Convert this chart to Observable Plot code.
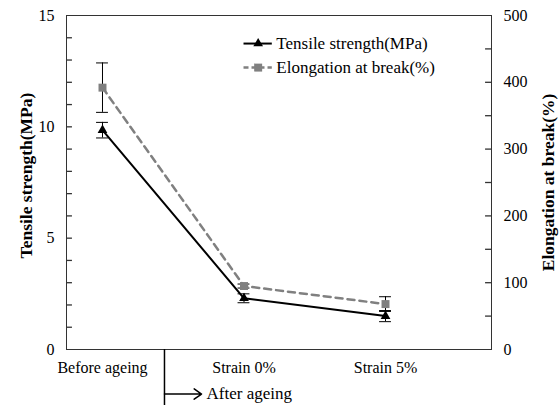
<!DOCTYPE html>
<html><head><meta charset="utf-8">
<script src="https://cdn.jsdelivr.net/npm/d3@7"></script>
<script src="https://cdn.jsdelivr.net/npm/@observablehq/plot@0.6"></script>
<style>
body{margin:0;background:#fff;}
</style></head><body><div id="chart"></div>
<script>
// ---- data ----
const categories = ["Before ageing", "Strain 0%", "Strain 5%"];
const tensile = [9.85, 2.3, 1.5];          // MPa (left axis)
const tensileErr = [0.35, 0.2, 0.25];
const elongation = [392, 95, 68];          // % (right axis)
const elongationErr = [37, 3, 11];
const leftTicks = [0, 5, 10, 15];
const rightTicks = [0, 100, 200, 300, 400, 500];
const seriesNames = ["Tensile strength(MPa)", "Elongation at break(%)"];
const axisTitles = ["Tensile strength(MPa)", "Elongation at break(%)"];
const annotationLabel = "After ageing";

// ---- derived tables ----
const k = 15 / 500; // right axis -> left axis units
const ts = categories.map((c, i) => ({i, c, v: tensile[i], e: tensileErr[i]}));
const el = categories.map((c, i) => ({i, c, v: elongation[i] * k, e: elongationErr[i] * k}));
const leftMinor = d3.range(1, 15).map(v => ({v}));
const rightMinor = d3.range(50, 500, 50).map(v => ({v: v * k}));

// layout helpers
const xDomain = [-0.2544, 2.749];
const tickLen = 0.042; // inward minor tick length in x units (~6px)
const cap = 0.042;
const dividerX = 0.438, arrowEndX = 0.70, arrowY = -2.0, dividerBottom = -2.6;
const legX1 = 1.0, legX2 = 1.2;
const legend = [
  {name: seriesNames[0], y: 13.74},
  {name: seriesNames[1], y: 12.66}
];
const gray = "#808080";
const axisColor = "#333";

const chart = Plot.plot({
  width: 560,
  height: 405,
  marginLeft: 66,
  marginRight: 69,
  marginTop: 15,
  marginBottom: 56,
  style: {fontFamily: "'Liberation Serif', 'Times New Roman', serif", fontSize: "16px", color: "#000", background: "#fff", overflow: "visible"},
  x: {type: "linear", domain: xDomain},
  y: {domain: [0, 15]},
  marks: [
    // axes
    Plot.axisX({ticks: [0, 1, 2], tickFormat: i => categories[i], tickSize: 0, tickPadding: 12, label: null, fontSize: 16}),
    Plot.axisY({anchor: "left", ticks: leftTicks, tickSize: 0, tickPadding: 12, label: null, fontSize: 16}),
    Plot.axisY({anchor: "right", ticks: rightTicks.map(v => v * k), tickFormat: d => Math.round(d / k), tickSize: 0, tickPadding: 12, label: null, fontSize: 16}),
    // inward minor ticks
    Plot.ruleY(leftMinor, {y: "v", x1: d => xDomain[0], x2: d => xDomain[0] + tickLen, stroke: axisColor, strokeWidth: 1.3}),
    Plot.ruleY(rightMinor, {y: "v", x1: d => xDomain[1] - tickLen, x2: d => xDomain[1], stroke: axisColor, strokeWidth: 1.3}),
    Plot.frame({stroke: axisColor}),
    // axis titles
    Plot.text([axisTitles[0]], {text: d => d, frameAnchor: "left", textAnchor: "middle", rotate: -90, dx: -40, dy: -7, fontWeight: "bold", fontSize: 17.5, lineAnchor: "middle"}),
    Plot.text([axisTitles[1]], {text: d => d, frameAnchor: "right", textAnchor: "middle", rotate: -90, dx: 57, dy: 0, fontWeight: "bold", fontSize: 17.5, lineAnchor: "middle"}),
    // error bars
    Plot.ruleX(el, {x: "i", y1: d => d.v - d.e, y2: d => d.v + d.e, stroke: "#000", strokeWidth: 1}),
    Plot.ruleY(el, {y: d => d.v - d.e, x1: d => d.i - cap, x2: d => d.i + cap, stroke: "#000", strokeWidth: 1}),
    Plot.ruleY(el, {y: d => d.v + d.e, x1: d => d.i - cap, x2: d => d.i + cap, stroke: "#000", strokeWidth: 1}),
    Plot.ruleX(ts, {x: "i", y1: d => d.v - d.e, y2: d => d.v + d.e, stroke: "#000", strokeWidth: 1}),
    Plot.ruleY(ts, {y: d => d.v - d.e, x1: d => d.i - cap, x2: d => d.i + cap, stroke: "#000", strokeWidth: 1}),
    Plot.ruleY(ts, {y: d => d.v + d.e, x1: d => d.i - cap, x2: d => d.i + cap, stroke: "#000", strokeWidth: 1}),
    // series lines
    Plot.line(el, {x: "i", y: "v", stroke: gray, strokeWidth: 2.5, strokeDasharray: "7,5"}),
    Plot.line(ts, {x: "i", y: "v", stroke: "#000", strokeWidth: 2}),
    Plot.dot(el, {x: "i", y: "v", symbol: "square", r: 4.5, fill: gray, stroke: "none"}),
    Plot.dot(ts, {x: "i", y: "v", symbol: "triangle", r: 3.6, fill: "#000", stroke: "none"}),
    // before / after divider annotation
    Plot.ruleX([dividerX], {x: d => d, y1: 0, y2: dividerBottom, stroke: "#000", strokeWidth: 1.5}),
    Plot.arrow([annotationLabel], {x1: dividerX, x2: arrowEndX, y1: arrowY, y2: arrowY, stroke: "#000", strokeWidth: 1.5, headLength: 9, headAngle: 70, bend: 0}),
    Plot.text([annotationLabel], {text: d => d, x: arrowEndX, y: arrowY, dx: 5, textAnchor: "start", fontSize: 17}),
    // legend
    Plot.ruleY([legend[0]], {y: "y", x1: legX1, x2: legX2, stroke: "#000", strokeWidth: 2}),
    Plot.dot([legend[0]], {x: (legX1 + legX2) / 2, y: "y", symbol: "triangle", r: 3.6, fill: "#000", stroke: "none"}),
    Plot.ruleY([legend[1]], {y: "y", x1: legX1, x2: legX2, stroke: gray, strokeWidth: 2.5, strokeDasharray: "5,3"}),
    Plot.dot([legend[1]], {x: (legX1 + legX2) / 2, y: "y", symbol: "square", r: 4.5, fill: gray, stroke: "none"}),
    Plot.text(legend, {text: "name", x: legX2, y: "y", dx: 4, textAnchor: "start", fontSize: 17})
  ]
});
document.getElementById("chart").append(chart);
</script>
</body></html>
